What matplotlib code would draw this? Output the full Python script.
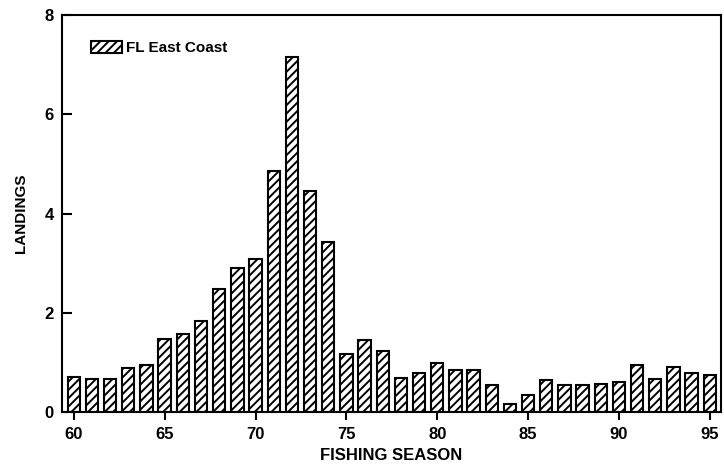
import numpy as np
import matplotlib
matplotlib.use('Agg')
import matplotlib.pyplot as plt

# landings per fishing season, FL East Coast
seasons = list(range(60, 96))
landings = [0.71, 0.66, 0.66, 0.88, 0.95, 1.48, 1.58, 1.83, 2.47, 2.9, 3.08,
            4.85, 7.16, 4.45, 3.42, 1.16, 1.46, 1.22, 0.69, 0.79, 0.99, 0.85,
            0.85, 0.55, 0.17, 0.35, 0.65, 0.55, 0.55, 0.57, 0.6, 0.95, 0.67,
            0.91, 0.79, 0.75]
yticks = [0, 2, 4, 6, 8]
xticks = [60, 65, 70, 75, 80, 85, 90, 95]

plt.rcParams['font.family'] = ['Liberation Sans', 'DejaVu Sans']
plt.rcParams['font.weight'] = 'bold'
plt.rcParams['hatch.linewidth'] = 1.4

fig = plt.figure(figsize=(7.24, 4.69), dpi=100)
ax = fig.add_axes([0.0856, 0.1215, 0.9104, 0.8465])

ax.bar(seasons, landings, width=0.68, color='white', edgecolor='black',
       linewidth=1.5, hatch='////', label='FL East Coast')

ax.set_xlim(59.35, 95.62)
ax.set_ylim(0, 8)
ax.set_xticks(xticks)
ax.set_yticks(yticks)
ax.tick_params(axis='x', direction='out', length=6, width=1.5, labelsize=12, pad=5)
ax.tick_params(axis='y', direction='in', length=7, width=1.5, labelsize=12, pad=6)
for lab in ax.get_xticklabels() + ax.get_yticklabels():
    lab.set_fontweight('bold')

for s in ax.spines.values():
    s.set_linewidth(1.5)

ax.set_xlabel('FISHING SEASON', fontsize=12, fontweight='bold', labelpad=4)
ax.set_ylabel('LANDINGS', fontsize=11, fontweight='bold', labelpad=12)

leg = ax.legend(loc='upper left', frameon=False, fontsize=11,
                handlelength=2.0, handleheight=0.8, handletextpad=0.3,
                bbox_to_anchor=(0.035, 0.95), borderaxespad=0)
for t in leg.get_texts():
    t.set_fontweight('bold')

fig.savefig('out.png', dpi=100)
